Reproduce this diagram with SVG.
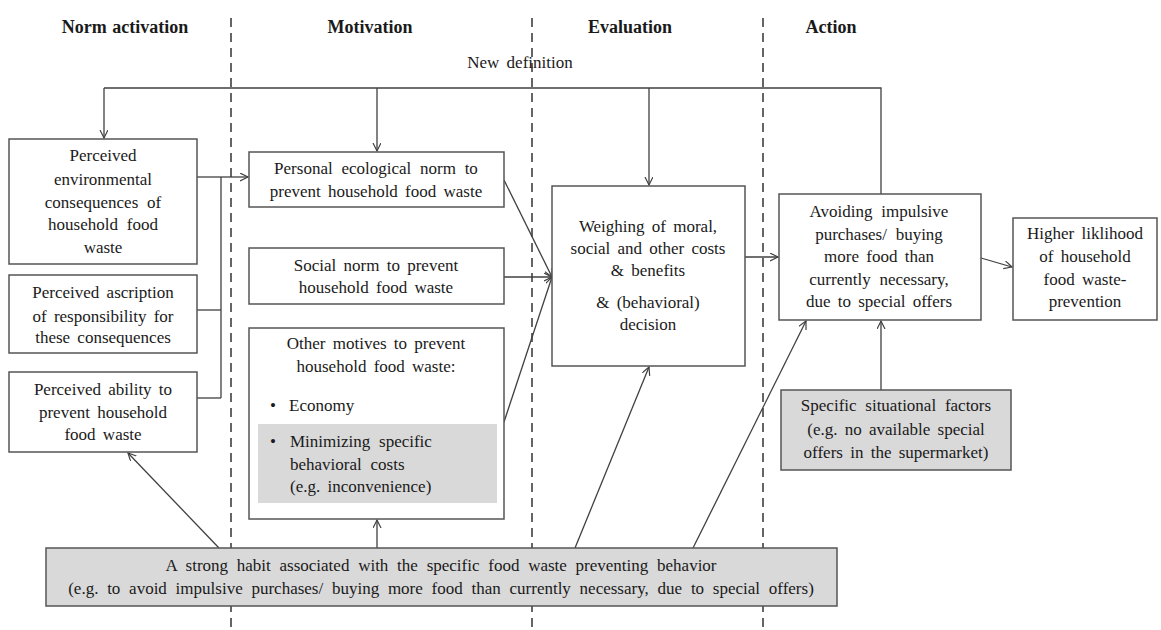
<svg xmlns="http://www.w3.org/2000/svg" width="1161" height="630" viewBox="0 0 1161 630">
<defs>
<marker id="arr" markerWidth="10" markerHeight="10" refX="8" refY="4" orient="auto" markerUnits="userSpaceOnUse">
<path d="M0,0 L8,4 L0,8" fill="none" stroke="#404040" stroke-width="1.2"/>
</marker>
<style>
text{font-family:"Liberation Serif","Times New Roman",serif;font-size:17px;fill:#1a1a1a;word-spacing:3px}
.t{text-anchor:middle}
.h{font-weight:bold;font-size:18px;text-anchor:middle;word-spacing:1px}
.box{fill:#fff;stroke:#555;stroke-width:1.5}
.gbox{fill:#d9d9d9;stroke:#555;stroke-width:1.5}
.dash{stroke:#333;stroke-width:1.5;stroke-dasharray:9,6;fill:none}
.c{stroke:#404040;stroke-width:1.3;fill:none}
.ca{stroke:#404040;stroke-width:1.3;fill:none;marker-end:url(#arr)}
.w{word-spacing:4.5px}
</style>
</defs>
<rect width="1161" height="630" fill="#fff"/>
<g id="phases">
<line class="dash" x1="231" y1="18" x2="231" y2="630"/>
<line class="dash" x1="532" y1="18" x2="532" y2="630"/>
<line class="dash" x1="763" y1="18" x2="763" y2="630"/>
<text class="h" x="125" y="33">Norm activation</text>
<text class="h" x="370" y="33">Motivation</text>
<text class="h" x="630" y="33">Evaluation</text>
<text class="h" x="831" y="33">Action</text>
</g>
<g id="connectors">
<polyline class="c" points="881,203 881,88 104,88"/>
<line class="ca" x1="104" y1="88" x2="104" y2="138"/>
<line class="ca" x1="377" y1="88" x2="377" y2="151"/>
<line class="ca" x1="649" y1="88" x2="649" y2="185"/>
<text class="t" x="520" y="68">New definition</text>
<line class="c" x1="197" y1="177" x2="221" y2="177"/>
<line class="c" x1="197" y1="310" x2="221" y2="310"/>
<line class="c" x1="197" y1="398" x2="221" y2="398"/>
<line class="c" x1="221" y1="177" x2="221" y2="398"/>
<line class="ca" x1="221" y1="177" x2="248" y2="177"/>
<line class="ca" x1="504" y1="180" x2="552" y2="277"/>
<line class="ca" x1="504" y1="277" x2="552" y2="277"/>
<line class="ca" x1="504" y1="422" x2="552" y2="277"/>
<line class="ca" x1="745" y1="257" x2="778" y2="257"/>
<line class="ca" x1="981" y1="258" x2="1012" y2="267"/>
<line class="ca" x1="219" y1="548" x2="128" y2="453"/>
<line class="ca" x1="377" y1="548" x2="377" y2="520"/>
<line class="ca" x1="575" y1="548" x2="649" y2="367"/>
<line class="ca" x1="693" y1="548" x2="806" y2="321"/>
<line class="ca" x1="881" y1="390" x2="881" y2="321"/>
</g>
<g id="n-env">
<rect class="box" x="9" y="139" width="188" height="125"/>
<text class="t" x="103" y="161">Perceived</text>
<text class="t" x="103" y="185">environmental</text>
<text class="t w" x="103" y="208">consequences of</text>
<text class="t w" x="103" y="230">household food</text>
<text class="t" x="103" y="253">waste</text>
</g>
<g id="n-resp">
<rect class="box" x="9" y="275" width="188" height="78"/>
<text class="t" x="103" y="298">Perceived ascription</text>
<text class="t" x="103" y="322">of responsibility for</text>
<text class="t" x="103" y="343">these consequences</text>
</g>
<g id="n-ability">
<rect class="box" x="9" y="372" width="188" height="80"/>
<text class="t" x="103" y="395">Perceived ability to</text>
<text class="t" x="103" y="418">prevent household</text>
<text class="t" x="103" y="440">food waste</text>
</g>
<g id="n-personal">
<rect class="box" x="249" y="152" width="255" height="55"/>
<text class="t w" x="376" y="174">Personal ecological norm to</text>
<text class="t" x="376" y="197">prevent household food waste</text>
</g>
<g id="n-social">
<rect class="box" x="249" y="248" width="255" height="56"/>
<text class="t" x="376" y="271">Social norm to prevent</text>
<text class="t" x="376" y="293">household food waste</text>
</g>
<g id="n-other">
<rect class="box" x="249" y="328" width="255" height="191"/>
<rect x="258" y="424" width="239" height="79" fill="#d9d9d9"/>
<text class="t" x="376" y="349">Other motives to prevent</text>
<text class="t" x="376" y="372">household food waste:</text>
<text x="270" y="411">•</text>
<text x="289" y="411">Economy</text>
<text x="270" y="447">•</text>
<text class="w" x="290" y="447">Minimizing specific</text>
<text class="w" x="290" y="470">behavioral costs</text>
<text x="290" y="492">(e.g. inconvenience)</text>
</g>
<g id="n-weigh">
<rect class="box" x="552" y="186" width="193" height="180"/>
<text class="t" x="648" y="232">Weighing of moral,</text>
<text class="t" x="648" y="254">social and other costs</text>
<text class="t" x="648" y="276">&amp; benefits</text>
<text class="t" x="648" y="308">&amp; (behavioral)</text>
<text class="t" x="648" y="330">decision</text>
</g>
<g id="n-avoid">
<rect class="box" x="779" y="194" width="202" height="126"/>
<text class="t w" x="879" y="217">Avoiding impulsive</text>
<text class="t w" x="879" y="240">purchases/ buying</text>
<text class="t" x="879" y="262">more food than</text>
<text class="t w" x="879" y="285">currently necessary,</text>
<text class="t" x="879" y="307">due to special offers</text>
</g>
<g id="n-higher">
<rect class="box" x="1013" y="218" width="144" height="102"/>
<text class="t" x="1085" y="239">Higher liklihood</text>
<text class="t" x="1085" y="262">of household</text>
<text class="t" x="1085" y="285">food waste-</text>
<text class="t" x="1085" y="307">prevention</text>
</g>
<g id="n-situational">
<rect class="gbox" x="781" y="390" width="230" height="80"/>
<text class="t w" x="896" y="411">Specific situational factors</text>
<text class="t" x="896" y="435">(e.g. no available special</text>
<text class="t" x="896" y="458">offers in the supermarket)</text>
</g>
<g id="n-habit">
<rect class="gbox" x="46" y="548" width="791" height="58"/>
<text class="t w" x="441" y="571">A strong habit associated with the specific food waste preventing behavior</text>
<text class="t w" x="441" y="594">(e.g. to avoid impulsive purchases/ buying more food than currently necessary, due to special offers)</text>
</g>
</svg>
